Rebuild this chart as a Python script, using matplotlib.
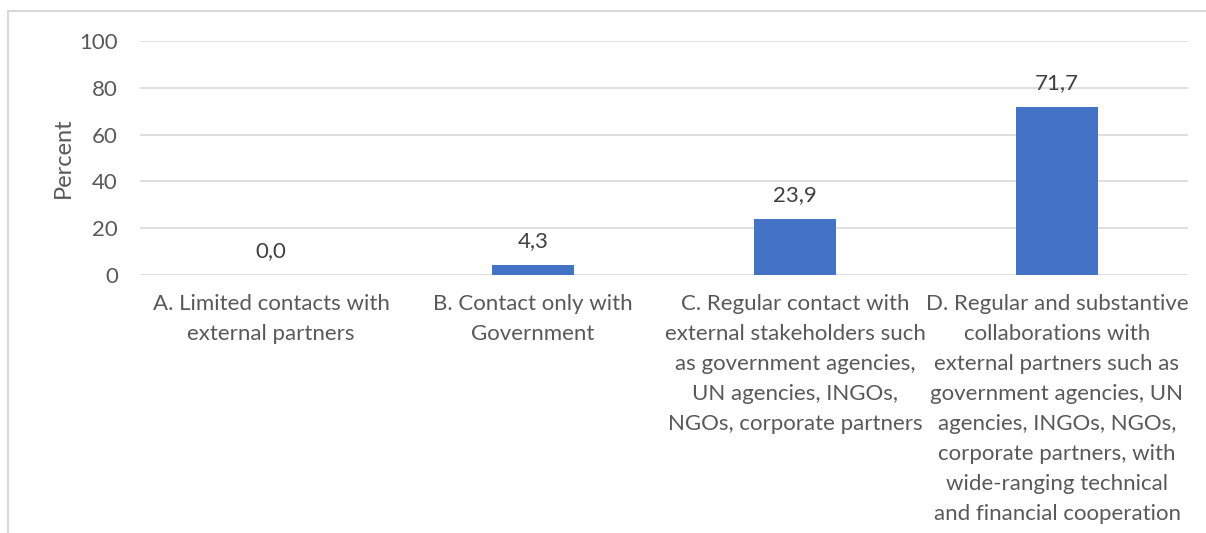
import matplotlib
matplotlib.use("Agg")
import matplotlib.pyplot as plt
from matplotlib.patches import Rectangle

categories = [
    "A. Limited contacts with\nexternal partners",
    "B. Contact only with\nGovernment",
    "C. Regular contact with\nexternal stakeholders such\nas government agencies,\nUN agencies, INGOs,\nNGOs, corporate partners",
    "D. Regular and substantive\ncollaborations with\nexternal partners such as\ngovernment agencies, UN\nagencies, INGOs, NGOs,\ncorporate partners, with\nwide-ranging technical\nand financial cooperation",
]
values = [0.0, 4.3, 23.9, 71.7]
yticks = [0, 20, 40, 60, 80, 100]

W, H = 1206, 533
fig = plt.figure(figsize=(W / 100, H / 100), dpi=100)
plt.rcParams["font.family"] = ["Lato", "DejaVu Sans"]
FS = 16

# light frame around the chart area
fig.patches.append(Rectangle((8 / W, -0.1), 1.2, (H - 11) / H + 0.1,
                             transform=fig.transFigure, fill=False,
                             edgecolor="#d9d9d9", linewidth=1.5))

ax = fig.add_axes([140 / W, 1 - 275 / H, (1188 - 140) / W, (275 - 41) / H])
x = range(len(values))
ax.bar(x, values, width=0.313, color="#4472c4", zorder=3)
ax.set_xlim(-0.5, len(values) - 0.5)
ax.set_ylim(0, 100)
ax.set_yticks(yticks)
ax.set_yticklabels([str(t) for t in yticks], fontsize=FS, color="#595959")
ax.grid(axis="y", color="#d9d9d9", linewidth=1.2, zorder=0)
for s in ax.spines.values():
    s.set_visible(False)
ax.tick_params(axis="both", length=0)
ax.tick_params(axis="y", pad=16)
ax.set_xticks(list(x))
ax.set_xticklabels(categories, fontsize=FS, color="#595959",
                   linespacing=1.62, va="top")
ax.tick_params(axis="x", pad=14)
ax.set_ylabel("Percent", fontsize=FS + 1, color="#595959", labelpad=4)

for xi, v in zip(x, values):
    ax.annotate(f"{v:.1f}".replace(".", ","), (xi, v), xytext=(0, 10),
                textcoords="offset points", ha="center", va="bottom",
                fontsize=FS, color="#404040")

fig.savefig("out.png", dpi=100, facecolor="white")
